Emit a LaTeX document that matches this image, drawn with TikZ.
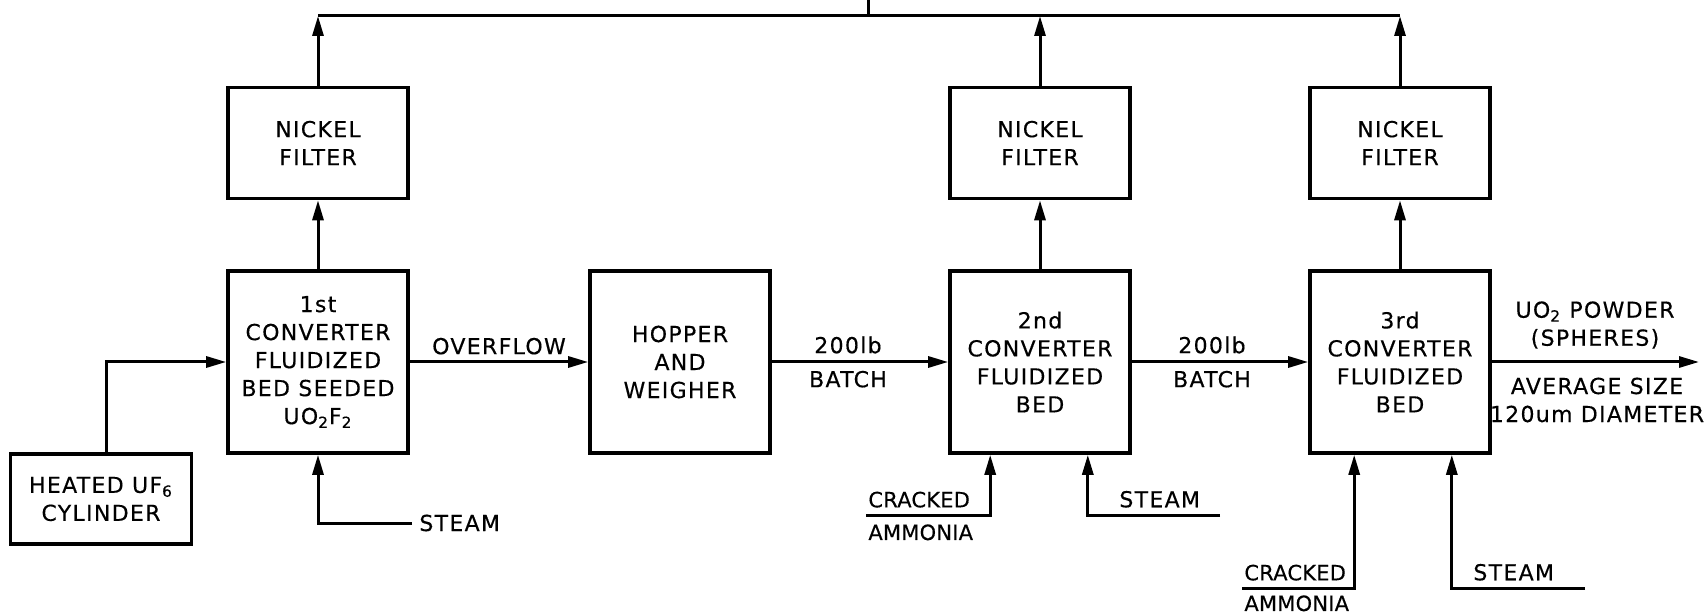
\documentclass[tikz,border=0pt]{standalone}
\usepackage{fontspec}
\setmainfont{DejaVu Sans}[LetterSpace=6,FakeBold=0.4]
\usetikzlibrary{arrows.meta,positioning}
\tikzset{
  unit/.style={rectangle,draw,line width=1.8pt,align=center,inner sep=2pt,font=\fontsize{11}{14}\selectfont},
  filterbox/.style={unit,minimum width=90pt,minimum height=55.5pt},
  bedbox/.style={unit,minimum width=90pt,minimum height=91pt},
  flow/.style={-{Triangle[length=10pt,width=5.5pt]},line width=1.5pt},
  pipe/.style={line width=1.5pt},
  tag/.style={font=\fontsize{11}{14}\selectfont,inner sep=0pt,align=center},
  feedtag/.style={tag,font=\fontsize{10.5}{14}\selectfont\addfontfeature{LetterSpace=1}}
}
\begin{document}
\begin{tikzpicture}[x=0.5pt,y=-0.5pt]
  \useasboundingbox (0,0) rectangle (1708,614);
  % process units
  \node[unit,minimum width=90.5pt,minimum height=45pt] (uf6) at (101,499) {HEATED UF\textsubscript{6}\\CYLINDER};
  \node[bedbox] (conv1) at (318,362) {1st\\CONVERTER\\FLUIDIZED\\BED SEEDED\\UO\textsubscript{2}F\textsubscript{2}};
  \node[bedbox] (hopper) at (680,362) {HOPPER\\AND\\WEIGHER};
  \node[bedbox] (conv2) at (1040,362) {2nd\\CONVERTER\\FLUIDIZED\\BED};
  \node[bedbox] (conv3) at (1400,362) {3rd\\CONVERTER\\FLUIDIZED\\BED};
  \node[filterbox] (filt1) at (318,143) {NICKEL\\FILTER};
  \node[filterbox] (filt2) at (1040,143) {NICKEL\\FILTER};
  \node[filterbox] (filt3) at (1400,143) {NICKEL\\FILTER};
  % off-gas header
  \coordinate (top1) at (318,16);
  \coordinate (top2) at (1040,16);
  \coordinate (top3) at (1400,16);
  \coordinate (ventfoot) at (868,16);
  \coordinate (vent) at (868,0);
  \draw[flow] (conv1) -- (filt1);
  \draw[flow] (conv2) -- (filt2);
  \draw[flow] (conv3) -- (filt3);
  \draw[flow] (filt1) -- (top1);
  \draw[flow] (filt2) -- (top2);
  \draw[flow] (filt3) -- (top3);
  \draw[pipe] (top1) -- (top3);
  \draw[pipe] (ventfoot) -- (vent);
  % main line
  \draw[flow] ([xshift=2.5pt]uf6.north) |- (conv1);
  \draw[flow] (conv1) -- node[tag,above=3pt] (ovfl) {OVERFLOW} (hopper);
  \draw[flow] (hopper) -- node[tag,xshift=-6pt] (batch1) {200lb\\[3pt]BATCH} (conv2);
  \draw[flow] (conv2) -- node[tag,xshift=-4pt] (batch2) {200lb\\[3pt]BATCH} (conv3);
  \coordinate (out) at (1699,362);
  \draw[flow] (conv3) -- (out);
  \node[tag] (prodname) at (1595,325) {UO\textsubscript{2} POWDER\\(SPHERES)};
  \node[tag] (prodsize) at (1597,400) {AVERAGE SIZE\\120um DIAMETER};
  % feeds
  \coordinate (steam1) at (412,523);
  \draw[flow] (steam1) -| (conv1);
  \node[tag,anchor=west] (steam1lbl) at (419,523) {STEAM};
  \coordinate (nh3a) at (866,515);
  \draw[flow] (nh3a) -| ([xshift=21pt]conv2.south west);
  \node[feedtag,anchor=south west] (nh3albl) at (868,508) {CRACKED};
  \node[feedtag,anchor=north west] (nh3albl2) at (868,524) {AMMONIA};
  \coordinate (steam2) at (1220,515);
  \draw[flow] (steam2) -| ([xshift=-22pt]conv2.south east);
  \node[tag,anchor=south west] (steam2lbl) at (1119,508) {STEAM};
  \coordinate (nh3b) at (1242,588);
  \draw[flow] (nh3b) -| ([xshift=23pt]conv3.south west);
  \node[feedtag,anchor=south west] (nh3blbl) at (1244,581) {CRACKED};
  \node[feedtag,anchor=north west] (nh3blbl2) at (1244,595) {AMMONIA};
  \coordinate (steam3) at (1585,588);
  \draw[flow] (steam3) -| ([xshift=-20pt]conv3.south east);
  \node[tag,anchor=south west] (steam3lbl) at (1473,581) {STEAM};
\end{tikzpicture}
\end{document}
